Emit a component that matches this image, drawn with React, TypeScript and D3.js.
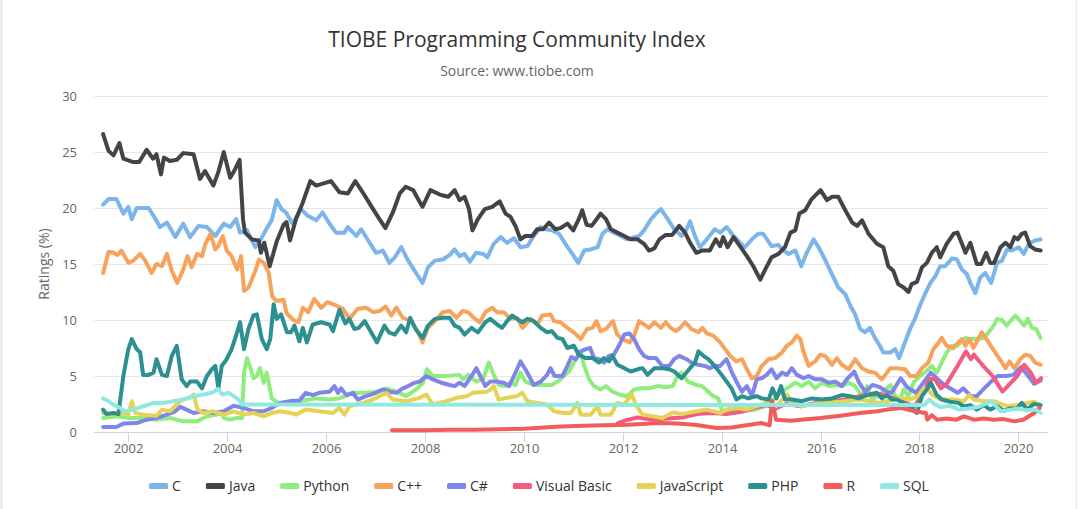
import { useEffect, useRef } from "react";
import * as d3 from "d3";

// TIOBE index, [year, rating %]
const cData: [number, number][] = [
  [2001.49, 20.3], [2001.6, 20.8], [2001.76, 20.8], [2001.9, 19.5], [2002.0, 20.1], [2002.07, 19.0], [2002.17, 20.0],
  [2002.41, 20.0], [2002.51, 19.3], [2002.64, 18.3], [2002.78, 18.7], [2002.95, 17.4], [2003.11, 18.6], [2003.25, 17.4],
  [2003.42, 18.4], [2003.59, 18.3], [2003.76, 17.5], [2003.93, 18.6], [2004.06, 18.3], [2004.18, 19.0], [2004.26, 17.8],
  [2004.4, 18.0], [2004.57, 16.5], [2004.68, 17.2], [2004.79, 18.1], [2004.9, 18.9], [2005.0, 20.7], [2005.1, 19.9],
  [2005.19, 19.6], [2005.32, 18.6], [2005.49, 19.9], [2005.63, 19.3], [2005.8, 18.9], [2005.93, 19.6], [2006.07, 18.6],
  [2006.2, 17.8], [2006.37, 17.8], [2006.44, 18.3], [2006.61, 17.5], [2006.71, 18.1], [2006.88, 16.9], [2007.01, 16.0],
  [2007.15, 16.2], [2007.28, 15.1], [2007.39, 15.6], [2007.52, 16.5], [2007.66, 15.3], [2007.79, 14.4], [2007.95, 13.3],
  [2008.06, 14.7], [2008.2, 15.3], [2008.36, 15.4], [2008.5, 15.8], [2008.6, 16.3], [2008.7, 15.7], [2008.8, 15.9],
  [2008.91, 15.2], [2009.03, 16.0], [2009.18, 15.9], [2009.26, 15.6], [2009.39, 16.8], [2009.53, 17.4], [2009.66, 16.9],
  [2009.8, 17.3], [2009.93, 16.5], [2010.07, 16.6], [2010.2, 17.5], [2010.34, 18.3], [2010.44, 18.1], [2010.57, 18.0],
  [2010.71, 17.7], [2010.84, 16.8], [2010.98, 15.9], [2011.1, 15.1], [2011.22, 16.2], [2011.35, 16.3], [2011.49, 16.5],
  [2011.59, 17.7], [2011.69, 18.1], [2011.82, 17.8], [2011.96, 17.5], [2012.09, 17.2], [2012.23, 17.4], [2012.33, 17.5],
  [2012.43, 18.0], [2012.57, 19.0], [2012.67, 19.5], [2012.77, 19.9], [2012.91, 19.0], [2013.04, 18.1], [2013.19, 17.5],
  [2013.29, 18.1], [2013.36, 18.8], [2013.46, 17.5], [2013.56, 16.5], [2013.7, 17.2], [2013.86, 18.1], [2013.97, 17.8],
  [2014.1, 18.3], [2014.24, 17.5], [2014.37, 16.9], [2014.47, 16.5], [2014.61, 17.2], [2014.74, 17.7], [2014.84, 17.7],
  [2015.01, 16.6], [2015.15, 16.7], [2015.25, 16.2], [2015.35, 15.9], [2015.49, 16.2], [2015.61, 14.8], [2015.72, 16.0],
  [2015.86, 17.2], [2015.96, 16.5], [2016.09, 15.4], [2016.23, 14.1], [2016.36, 12.9], [2016.5, 12.3], [2016.6, 11.3],
  [2016.7, 10.5], [2016.8, 9.2], [2016.9, 8.9], [2017.0, 9.3], [2017.1, 8.4], [2017.2, 7.7], [2017.27, 7.1],
  [2017.41, 7.1], [2017.51, 7.4], [2017.59, 6.6], [2017.68, 7.7], [2017.81, 9.2], [2017.91, 10.1], [2018.01, 11.3],
  [2018.11, 12.3], [2018.22, 13.3], [2018.32, 13.9], [2018.42, 14.8], [2018.52, 14.8], [2018.66, 15.5], [2018.76, 15.4],
  [2018.86, 14.5], [2018.96, 14.1], [2019.03, 13.3], [2019.13, 12.4], [2019.23, 13.8], [2019.33, 14.2], [2019.45, 13.3],
  [2019.57, 15.1], [2019.67, 15.3], [2019.77, 16.3], [2019.87, 16.2], [2020.01, 16.5], [2020.11, 15.9], [2020.21, 16.8],
  [2020.34, 17.1], [2020.45, 17.2],
];

const javaData: [number, number][] = [
  [2001.49, 26.6], [2001.6, 25.1], [2001.7, 24.7], [2001.82, 25.8], [2001.9, 24.4], [2002.1, 24.1], [2002.22, 24.1],
  [2002.37, 25.2], [2002.5, 24.4], [2002.57, 24.8], [2002.66, 23.0], [2002.72, 24.5], [2002.84, 24.2], [2002.98, 24.3],
  [2003.11, 24.9], [2003.32, 24.8], [2003.45, 22.6], [2003.55, 23.3], [2003.72, 22.0], [2003.82, 23.2], [2003.93, 25.0],
  [2004.06, 22.7], [2004.14, 23.3], [2004.25, 24.3], [2004.32, 19.0], [2004.36, 17.8], [2004.5, 17.2], [2004.64, 17.1],
  [2004.68, 16.0], [2004.75, 16.9], [2004.86, 14.8], [2005.0, 17.0], [2005.14, 18.5], [2005.2, 18.75], [2005.27, 17.1],
  [2005.39, 19.0], [2005.53, 20.5], [2005.68, 22.4], [2005.8, 22.0], [2006.1, 22.4], [2006.27, 21.4], [2006.44, 21.3],
  [2006.59, 22.4], [2006.74, 21.4], [2006.95, 19.9], [2007.08, 19.0], [2007.2, 18.2], [2007.35, 19.6], [2007.49, 21.3],
  [2007.61, 21.9], [2007.76, 21.6], [2007.86, 20.8], [2007.95, 20.1], [2008.11, 21.6], [2008.3, 21.2], [2008.47, 21.0],
  [2008.6, 21.6], [2008.7, 20.7], [2008.8, 21.0], [2008.89, 19.9], [2008.96, 18.0], [2009.07, 19.0], [2009.21, 19.9],
  [2009.36, 20.1], [2009.51, 20.6], [2009.63, 19.5], [2009.73, 19.2], [2009.83, 18.4], [2009.93, 17.2], [2010.03, 17.5],
  [2010.17, 17.5], [2010.27, 18.1], [2010.39, 18.1], [2010.51, 18.7], [2010.64, 18.1], [2010.74, 18.2], [2010.88, 18.6],
  [2011.0, 18.0], [2011.11, 19.0], [2011.18, 19.8], [2011.27, 18.5], [2011.37, 18.4], [2011.47, 19.0], [2011.55, 19.5],
  [2011.66, 19.0], [2011.76, 18.1], [2011.89, 17.8], [2012.03, 17.5], [2012.15, 17.2], [2012.3, 17.2], [2012.43, 16.8],
  [2012.53, 16.2], [2012.64, 16.4], [2012.74, 17.2], [2012.87, 17.6], [2013.0, 17.6], [2013.14, 18.4], [2013.26, 17.8],
  [2013.36, 16.9], [2013.49, 16.0], [2013.6, 16.2], [2013.76, 16.2], [2013.88, 17.2], [2013.97, 16.6], [2014.03, 17.4],
  [2014.12, 16.5], [2014.24, 17.4], [2014.37, 16.6], [2014.51, 15.7], [2014.64, 14.8], [2014.78, 13.6], [2014.88, 14.5],
  [2015.01, 15.6], [2015.15, 15.9], [2015.28, 16.5], [2015.39, 17.8], [2015.49, 18.0], [2015.57, 19.5], [2015.69, 19.8],
  [2015.82, 20.8], [2016.0, 21.6], [2016.13, 20.7], [2016.23, 21.0], [2016.36, 21.0], [2016.5, 19.8], [2016.64, 18.7],
  [2016.74, 18.4], [2016.84, 18.9], [2016.97, 17.7], [2017.14, 16.8], [2017.27, 16.5], [2017.37, 14.8], [2017.47, 14.4],
  [2017.57, 13.2], [2017.68, 12.9], [2017.78, 12.5], [2017.84, 13.2], [2017.95, 13.4], [2018.05, 14.7], [2018.15, 15.1],
  [2018.25, 16.0], [2018.35, 16.5], [2018.42, 15.6], [2018.55, 16.8], [2018.69, 17.7], [2018.77, 17.8], [2018.86, 16.8],
  [2018.93, 16.0], [2019.03, 16.9], [2019.16, 15.0], [2019.25, 15.0], [2019.35, 16.0], [2019.43, 15.1], [2019.51, 15.1],
  [2019.64, 16.5], [2019.74, 16.9], [2019.84, 16.5], [2019.92, 17.4], [2019.99, 17.2], [2020.07, 17.7], [2020.14, 17.8],
  [2020.24, 16.6], [2020.34, 16.3], [2020.45, 16.2],
];

const pythonData: [number, number][] = [
  [2001.49, 1.25], [2001.76, 1.4], [2002.03, 1.25], [2002.3, 1.25], [2002.57, 1.1], [2002.84, 1.25], [2003.11, 0.95],
  [2003.39, 0.95], [2003.59, 1.4], [2003.79, 1.55], [2003.89, 1.7], [2003.93, 1.25], [2004.06, 1.1], [2004.2, 1.25],
  [2004.3, 1.25], [2004.34, 5.3], [2004.4, 6.6], [2004.47, 5.7], [2004.53, 4.8], [2004.6, 5.0], [2004.66, 5.7],
  [2004.74, 4.4], [2004.8, 5.3], [2004.9, 3.0], [2005.04, 2.6], [2005.19, 2.6], [2005.46, 2.75], [2005.8, 3.0],
  [2006.07, 2.9], [2006.27, 3.0], [2006.54, 3.5], [2006.81, 3.5], [2007.01, 3.6], [2007.22, 3.9], [2007.42, 3.6],
  [2007.62, 3.2], [2007.82, 3.8], [2007.96, 4.4], [2008.04, 5.6], [2008.16, 5.0], [2008.43, 5.0], [2008.7, 5.1],
  [2008.77, 4.7], [2008.87, 5.1], [2009.04, 4.5], [2009.18, 4.8], [2009.29, 6.2], [2009.39, 5.1], [2009.49, 4.2],
  [2009.63, 4.1], [2009.73, 4.4], [2009.83, 4.2], [2009.93, 5.3], [2010.03, 4.5], [2010.2, 4.2], [2010.41, 4.2],
  [2010.57, 4.2], [2010.74, 4.7], [2010.91, 5.4], [2011.05, 6.5], [2011.15, 7.1], [2011.22, 5.9], [2011.32, 4.7],
  [2011.42, 4.1], [2011.55, 3.8], [2011.66, 4.1], [2011.79, 3.6], [2011.96, 3.3], [2012.09, 3.2], [2012.23, 3.8],
  [2012.37, 3.9], [2012.53, 3.9], [2012.7, 4.1], [2012.87, 4.0], [2013.01, 4.1], [2013.11, 5.0], [2013.18, 5.3],
  [2013.32, 4.5], [2013.49, 4.2], [2013.6, 4.1], [2013.73, 3.6], [2013.83, 3.2], [2013.93, 3.0], [2014.0, 2.0],
  [2014.14, 1.7], [2014.27, 2.0], [2014.47, 1.85], [2014.68, 2.0], [2014.88, 2.3], [2015.05, 2.9], [2015.15, 3.3],
  [2015.28, 3.8], [2015.39, 4.1], [2015.49, 4.4], [2015.62, 4.1], [2015.76, 4.5], [2015.89, 3.9], [2016.03, 4.4],
  [2016.16, 4.1], [2016.3, 4.2], [2016.43, 4.1], [2016.57, 4.4], [2016.7, 4.1], [2016.84, 3.2], [2016.94, 4.1],
  [2017.04, 2.9], [2017.14, 3.2], [2017.24, 3.5], [2017.34, 3.9], [2017.42, 4.2], [2017.51, 3.2], [2017.61, 2.9],
  [2017.68, 3.8], [2017.78, 3.2], [2017.88, 4.4], [2018.01, 5.0], [2018.11, 5.3], [2018.25, 5.9], [2018.35, 5.3],
  [2018.45, 6.2], [2018.55, 7.1], [2018.66, 7.7], [2018.76, 7.7], [2018.86, 8.1], [2018.93, 8.4], [2019.03, 8.3],
  [2019.16, 8.3], [2019.3, 8.4], [2019.4, 8.9], [2019.5, 9.5], [2019.57, 10.1], [2019.67, 10.0], [2019.76, 9.5],
  [2019.84, 9.9], [2019.94, 10.4], [2020.04, 9.9], [2020.12, 9.5], [2020.19, 10.1], [2020.28, 9.3], [2020.36, 9.2],
  [2020.45, 8.4],
];

const cppData: [number, number][] = [
  [2001.49, 14.2], [2001.6, 16.1], [2001.7, 16.0], [2001.78, 15.8], [2001.86, 16.2], [2002.0, 15.1], [2002.1, 15.3],
  [2002.24, 15.9], [2002.34, 15.3], [2002.47, 14.2], [2002.57, 15.0], [2002.68, 14.8], [2002.78, 15.9], [2002.88, 14.4],
  [2002.99, 13.3], [2003.11, 14.5], [2003.2, 15.7], [2003.28, 14.7], [2003.39, 15.9], [2003.49, 15.7], [2003.55, 16.7],
  [2003.66, 17.7], [2003.76, 16.3], [2003.82, 16.6], [2003.91, 17.5], [2003.99, 16.2], [2004.09, 15.7], [2004.2, 14.5],
  [2004.28, 15.7], [2004.34, 12.6], [2004.43, 12.9], [2004.57, 14.4], [2004.64, 15.4], [2004.74, 15.1], [2004.84, 14.2],
  [2004.91, 12.1], [2005.0, 11.7], [2005.14, 11.8], [2005.2, 10.6], [2005.34, 10.0], [2005.44, 9.8], [2005.53, 11.1],
  [2005.64, 10.7], [2005.76, 11.9], [2005.9, 11.1], [2006.03, 11.6], [2006.2, 11.3], [2006.34, 11.0], [2006.47, 10.1],
  [2006.64, 11.0], [2006.81, 11.1], [2006.95, 10.7], [2007.08, 10.8], [2007.2, 11.2], [2007.32, 10.4], [2007.42, 11.1],
  [2007.55, 10.2], [2007.72, 9.9], [2007.86, 8.9], [2007.95, 8.0], [2008.06, 9.3], [2008.2, 9.9], [2008.36, 10.7],
  [2008.5, 10.8], [2008.64, 10.2], [2008.76, 10.8], [2008.87, 10.7], [2009.01, 10.1], [2009.11, 9.8], [2009.22, 10.7],
  [2009.36, 11.1], [2009.46, 10.7], [2009.59, 10.7], [2009.73, 10.1], [2009.86, 10.2], [2009.97, 9.3], [2010.14, 10.1],
  [2010.27, 9.6], [2010.37, 10.4], [2010.54, 10.5], [2010.61, 9.9], [2010.74, 9.8], [2010.88, 9.3], [2011.01, 8.9],
  [2011.15, 8.3], [2011.28, 9.2], [2011.39, 9.3], [2011.47, 9.9], [2011.55, 9.0], [2011.66, 9.2], [2011.8, 9.9],
  [2011.89, 8.7], [2011.99, 8.3], [2012.14, 8.0], [2012.23, 8.6], [2012.33, 9.9], [2012.43, 9.6], [2012.53, 9.3],
  [2012.64, 9.8], [2012.77, 9.3], [2012.87, 9.8], [2012.97, 9.3], [2013.07, 9.0], [2013.16, 9.3], [2013.26, 9.8],
  [2013.39, 9.2], [2013.53, 8.9], [2013.61, 9.3], [2013.7, 8.8], [2013.83, 8.6], [2013.97, 8.0], [2014.07, 7.4],
  [2014.17, 6.8], [2014.3, 6.3], [2014.41, 6.5], [2014.51, 5.6], [2014.61, 4.8], [2014.71, 5.0], [2014.81, 5.9],
  [2014.95, 6.5], [2015.08, 6.6], [2015.22, 7.1], [2015.32, 7.7], [2015.42, 8.0], [2015.52, 8.6], [2015.59, 8.3],
  [2015.66, 7.1], [2015.76, 5.9], [2015.89, 6.3], [2015.99, 6.9], [2016.09, 6.8], [2016.23, 6.0], [2016.33, 6.6],
  [2016.43, 6.0], [2016.57, 5.6], [2016.7, 6.5], [2016.84, 5.7], [2016.97, 5.4], [2017.1, 5.3], [2017.24, 4.7],
  [2017.41, 5.7], [2017.54, 5.7], [2017.71, 5.6], [2017.81, 5.0], [2017.95, 5.0], [2018.05, 5.7], [2018.18, 6.2],
  [2018.28, 7.4], [2018.39, 8.0], [2018.45, 8.4], [2018.55, 7.7], [2018.69, 7.5], [2018.79, 8.0], [2018.86, 8.3],
  [2018.93, 7.7], [2019.01, 8.3], [2019.09, 7.5], [2019.26, 8.9], [2019.4, 8.0], [2019.53, 7.1], [2019.67, 6.2],
  [2019.74, 5.7], [2019.82, 6.3], [2019.92, 5.7], [2020.04, 6.5], [2020.14, 6.9], [2020.24, 6.8], [2020.34, 6.2],
  [2020.45, 6.0],
];

const csharpData: [number, number][] = [
  [2001.49, 0.45], [2001.76, 0.45], [2001.9, 0.75], [2002.17, 0.8], [2002.37, 1.1], [2002.57, 1.25], [2002.78, 1.55],
  [2002.95, 1.85], [2003.05, 2.25], [2003.18, 2.0], [2003.32, 1.7], [2003.52, 1.85], [2003.72, 1.7], [2003.93, 1.85],
  [2004.13, 2.35], [2004.33, 2.15], [2004.53, 1.85], [2004.74, 1.85], [2004.9, 2.15], [2005.07, 2.6], [2005.32, 2.8],
  [2005.46, 2.8], [2005.59, 3.5], [2005.73, 3.3], [2005.86, 3.5], [2006.07, 3.6], [2006.17, 4.1], [2006.24, 3.5],
  [2006.3, 3.9], [2006.41, 3.3], [2006.54, 3.5], [2006.64, 2.9], [2006.81, 3.2], [2007.01, 3.5], [2007.15, 3.8],
  [2007.28, 3.6], [2007.42, 3.5], [2007.55, 3.9], [2007.66, 4.1], [2007.79, 4.4], [2007.89, 4.5], [2008.03, 5.0],
  [2008.16, 4.7], [2008.33, 4.4], [2008.5, 4.2], [2008.6, 4.1], [2008.7, 4.4], [2008.8, 4.1], [2008.94, 5.0],
  [2009.04, 5.7], [2009.14, 4.8], [2009.22, 4.1], [2009.32, 4.5], [2009.46, 4.5], [2009.59, 4.4], [2009.7, 4.1],
  [2009.8, 5.0], [2009.93, 6.3], [2010.03, 5.6], [2010.14, 4.7], [2010.2, 4.2], [2010.34, 4.5], [2010.47, 5.1],
  [2010.54, 5.7], [2010.62, 5.0], [2010.78, 5.0], [2010.88, 5.9], [2010.96, 6.7], [2011.05, 6.5], [2011.15, 7.2],
  [2011.25, 7.4], [2011.34, 7.5], [2011.42, 6.6], [2011.52, 6.5], [2011.62, 6.2], [2011.72, 6.8], [2011.82, 6.9],
  [2011.92, 7.7], [2012.03, 8.7], [2012.13, 8.8], [2012.23, 8.3], [2012.33, 7.4], [2012.43, 6.8], [2012.53, 6.6],
  [2012.67, 6.6], [2012.8, 5.9], [2012.94, 5.9], [2013.04, 6.5], [2013.14, 6.8], [2013.29, 6.5], [2013.39, 6.2],
  [2013.53, 6.0], [2013.66, 5.9], [2013.76, 5.7], [2013.86, 5.9], [2013.97, 5.9], [2014.1, 6.5], [2014.2, 5.4],
  [2014.3, 4.5], [2014.41, 3.6], [2014.51, 4.1], [2014.61, 3.2], [2014.71, 4.7], [2014.81, 4.8], [2014.91, 5.1],
  [2015.01, 5.6], [2015.11, 4.8], [2015.22, 5.3], [2015.32, 5.1], [2015.42, 5.7], [2015.52, 5.1], [2015.66, 4.8],
  [2015.76, 5.0], [2015.89, 4.7], [2016.03, 4.7], [2016.16, 4.4], [2016.3, 4.5], [2016.43, 4.1], [2016.53, 4.7],
  [2016.68, 5.4], [2016.78, 4.4], [2016.9, 3.6], [2017.05, 4.2], [2017.2, 4.0], [2017.34, 3.6], [2017.44, 3.5],
  [2017.62, 4.8], [2017.75, 4.0], [2017.93, 3.5], [2018.08, 4.4], [2018.23, 5.3], [2018.35, 4.8], [2018.5, 4.2],
  [2018.62, 3.9], [2018.77, 3.5], [2018.89, 3.9], [2019.04, 3.2], [2019.16, 3.2], [2019.31, 3.9], [2019.45, 4.5],
  [2019.58, 5.0], [2019.75, 5.0], [2019.9, 5.1], [2020.05, 5.8], [2020.2, 5.0], [2020.32, 4.3], [2020.45, 4.6],
];

const vbData: [number, number][] = [
  [2011.9, 0.8], [2012.1, 1.1], [2012.3, 1.3], [2012.6, 1.1], [2012.9, 1.2], [2013.2, 1.3], [2013.5, 1.6],
  [2013.8, 1.7], [2014.1, 1.6], [2014.4, 1.8], [2014.7, 2.2], [2014.9, 2.4], [2015.1, 2.1], [2015.3, 2.5],
  [2015.6, 2.3], [2015.9, 2.6], [2016.2, 2.7], [2016.5, 2.9], [2016.9, 3.3], [2017.2, 3.4], [2017.5, 3.0],
  [2017.9, 2.3], [2018.1, 3.6], [2018.2, 4.7], [2018.3, 4.8], [2018.43, 3.9], [2018.55, 4.3], [2018.77, 5.9],
  [2018.94, 7.2], [2019.04, 6.5], [2019.1, 6.9], [2019.27, 6.0], [2019.48, 5.0], [2019.68, 3.6], [2019.85, 4.4],
  [2019.98, 5.0], [2020.12, 6.0], [2020.25, 5.3], [2020.36, 4.4], [2020.46, 4.8],
];

const jsData: [number, number][] = [
  [2001.49, 1.7], [2001.62, 1.55], [2001.9, 1.7], [2002.0, 1.55], [2002.07, 2.75], [2002.14, 1.7], [2002.3, 1.55],
  [2002.57, 1.45], [2002.68, 2.0], [2002.84, 1.85], [2003.01, 2.6], [2003.11, 2.9], [2003.25, 3.05], [2003.32, 3.35],
  [2003.4, 2.0], [2003.52, 1.7], [2003.72, 1.85], [2003.93, 1.55], [2004.13, 1.85], [2004.33, 1.55], [2004.53, 1.7],
  [2004.74, 1.4], [2004.9, 1.7], [2005.07, 1.85], [2005.28, 1.7], [2005.39, 1.55], [2005.59, 2.0], [2005.86, 1.85],
  [2006.14, 1.7], [2006.27, 2.15], [2006.37, 1.55], [2006.47, 2.3], [2006.74, 2.6], [2006.95, 2.9], [2007.08, 3.2],
  [2007.22, 3.5], [2007.35, 2.9], [2007.62, 2.75], [2007.89, 3.05], [2008.03, 3.35], [2008.16, 2.45], [2008.43, 2.75],
  [2008.64, 3.05], [2008.84, 3.2], [2008.97, 3.5], [2009.24, 3.6], [2009.32, 3.75], [2009.39, 4.1], [2009.49, 2.9],
  [2009.66, 3.05], [2009.86, 3.2], [2009.97, 3.5], [2010.07, 2.75], [2010.27, 2.6], [2010.47, 2.45], [2010.61, 1.85],
  [2010.81, 1.7], [2010.95, 1.7], [2011.08, 2.6], [2011.15, 1.55], [2011.35, 1.55], [2011.49, 2.3], [2011.55, 1.55],
  [2011.76, 1.55], [2011.89, 2.6], [2012.03, 2.45], [2012.18, 3.35], [2012.28, 2.3], [2012.4, 1.55], [2012.6, 1.4],
  [2012.8, 1.25], [2013.02, 1.75], [2013.2, 1.6], [2013.43, 1.8], [2013.7, 2.0], [2013.97, 1.7], [2014.2, 2.2],
  [2014.5, 2.0], [2014.91, 2.6], [2015.1, 2.3], [2015.32, 3.35], [2015.45, 2.6], [2015.6, 2.3], [2016.0, 2.6],
  [2016.4, 2.7], [2016.8, 2.9], [2017.2, 2.6], [2017.62, 3.05], [2017.8, 2.9], [2017.97, 3.2], [2018.07, 3.8],
  [2018.16, 3.9], [2018.26, 3.3], [2018.43, 2.9], [2018.7, 2.9], [2018.9, 2.75], [2019.0, 3.3], [2019.1, 2.9],
  [2019.3, 2.75], [2019.5, 2.75], [2019.77, 2.3], [2020.04, 2.45], [2020.32, 2.7], [2020.45, 2.4],
];

const phpData: [number, number][] = [
  [2001.49, 2.0], [2001.56, 1.6], [2001.7, 1.7], [2001.8, 1.6], [2001.9, 5.0], [2002.0, 7.4], [2002.07, 8.3],
  [2002.17, 7.4], [2002.24, 7.1], [2002.3, 5.1], [2002.41, 5.1], [2002.51, 5.3], [2002.57, 6.5], [2002.68, 5.1],
  [2002.78, 5.0], [2002.88, 6.8], [2002.98, 7.7], [2003.08, 4.7], [2003.18, 4.1], [2003.25, 4.5], [2003.39, 4.5],
  [2003.49, 3.9], [2003.59, 5.0], [2003.69, 5.6], [2003.76, 5.9], [2003.82, 3.9], [2003.89, 5.9], [2003.99, 6.5],
  [2004.09, 7.4], [2004.2, 8.9], [2004.26, 9.8], [2004.34, 7.4], [2004.43, 9.2], [2004.53, 10.4], [2004.6, 10.5],
  [2004.7, 8.3], [2004.8, 7.4], [2004.87, 8.3], [2004.94, 11.4], [2005.0, 10.1], [2005.09, 10.5], [2005.21, 8.9],
  [2005.29, 8.9], [2005.36, 9.5], [2005.46, 8.1], [2005.53, 9.3], [2005.61, 8.0], [2005.73, 9.6], [2005.9, 9.8],
  [2006.07, 9.6], [2006.14, 9.0], [2006.27, 10.9], [2006.39, 9.7], [2006.47, 10.1], [2006.57, 9.2], [2006.66, 9.3],
  [2006.78, 9.9], [2006.91, 8.9], [2007.03, 8.0], [2007.18, 9.5], [2007.27, 8.9], [2007.39, 8.7], [2007.52, 9.5],
  [2007.62, 8.9], [2007.7, 10.2], [2007.81, 9.2], [2007.95, 8.4], [2008.06, 9.5], [2008.2, 10.1], [2008.36, 10.2],
  [2008.5, 10.2], [2008.6, 9.5], [2008.7, 9.3], [2008.8, 8.7], [2008.94, 9.3], [2009.07, 8.9], [2009.22, 9.8],
  [2009.32, 10.1], [2009.46, 9.6], [2009.56, 9.3], [2009.66, 9.9], [2009.76, 10.4], [2009.86, 10.1], [2009.97, 9.8],
  [2010.07, 10.1], [2010.2, 9.9], [2010.34, 9.3], [2010.47, 8.9], [2010.57, 9.0], [2010.68, 8.4], [2010.78, 8.3],
  [2010.88, 7.5], [2011.01, 7.7], [2011.11, 6.9], [2011.25, 6.6], [2011.39, 6.6], [2011.52, 6.2], [2011.62, 6.6],
  [2011.72, 6.3], [2011.79, 6.8], [2011.89, 6.0], [2012.03, 5.7], [2012.16, 5.4], [2012.3, 5.6], [2012.4, 5.7],
  [2012.5, 5.1], [2012.64, 5.7], [2012.8, 5.7], [2012.94, 5.6], [2013.04, 5.4], [2013.19, 4.8], [2013.36, 5.7],
  [2013.46, 6.2], [2013.53, 7.2], [2013.63, 6.8], [2013.73, 6.5], [2013.86, 5.9], [2014.0, 5.1], [2014.1, 4.5],
  [2014.2, 3.9], [2014.3, 2.9], [2014.41, 3.2], [2014.54, 3.0], [2014.71, 3.2], [2014.81, 3.0], [2014.95, 2.9],
  [2015.03, 3.9], [2015.11, 3.0], [2015.2, 4.1], [2015.28, 2.9], [2015.42, 2.9], [2015.62, 2.75], [2015.82, 3.0],
  [2016.03, 2.9], [2016.23, 3.0], [2016.43, 3.3], [2016.6, 3.2], [2016.77, 3.0], [2016.94, 3.3], [2017.14, 3.5],
  [2017.24, 3.0], [2017.34, 3.3], [2017.44, 2.9], [2017.54, 2.9], [2017.68, 2.6], [2017.78, 2.3], [2017.88, 2.0],
  [2017.95, 1.7], [2018.05, 3.2], [2018.15, 3.8], [2018.23, 4.4], [2018.35, 3.3], [2018.45, 2.9], [2018.62, 2.7],
  [2018.79, 2.6], [2018.89, 2.3], [2019.03, 2.4], [2019.16, 2.0], [2019.3, 2.4], [2019.43, 2.0], [2019.57, 2.3],
  [2019.7, 1.9], [2019.84, 2.1], [2019.97, 2.1], [2020.07, 2.6], [2020.18, 2.0], [2020.31, 2.5], [2020.45, 2.4],
];

const rData: [number, number][] = [
  [2007.33, 0.15], [2008.0, 0.15], [2008.5, 0.2], [2009.0, 0.2], [2009.5, 0.25], [2010.0, 0.3], [2010.4, 0.4],
  [2010.75, 0.5], [2011.2, 0.55], [2011.6, 0.6], [2012.1, 0.65], [2012.75, 0.8], [2013.1, 0.75], [2013.45, 0.65],
  [2013.9, 0.35], [2014.2, 0.4], [2014.5, 0.6], [2014.8, 0.8], [2014.97, 0.6], [2015.02, 2.8], [2015.1, 1.1],
  [2015.4, 1.0], [2015.6, 1.1], [2016.0, 1.25], [2016.4, 1.45], [2016.8, 1.7], [2017.15, 1.85], [2017.35, 2.0],
  [2017.62, 2.15], [2017.9, 1.85], [2018.13, 1.7], [2018.16, 1.1], [2018.25, 1.5], [2018.36, 1.1], [2018.55, 1.2],
  [2018.75, 1.1], [2018.9, 1.4], [2019.1, 1.1], [2019.3, 1.2], [2019.5, 1.1], [2019.7, 1.15], [2019.92, 0.95],
  [2020.1, 1.1], [2020.32, 1.7], [2020.43, 2.15],
];

const sqlData: [number, number][] = [
  [2001.49, 3.0], [2001.6, 2.75], [2001.7, 2.45], [2001.83, 2.15], [2001.93, 1.85], [2002.1, 2.0], [2002.3, 2.3],
  [2002.51, 2.6], [2002.71, 2.6], [2002.91, 2.75], [2003.11, 2.9], [2003.32, 3.2], [2003.52, 3.35], [2003.69, 3.5],
  [2003.81, 3.85], [2003.9, 3.35], [2004.03, 3.5], [2004.13, 3.2], [2004.23, 2.9], [2004.3, 2.45], [2018.1, 2.4],
  [2018.2, 2.9], [2018.3, 2.5], [2018.43, 2.2], [2018.6, 2.35], [2018.8, 2.0], [2019.0, 2.1], [2019.2, 2.25],
  [2019.45, 2.75], [2019.65, 1.85], [2019.85, 2.0], [2020.0, 2.1], [2020.15, 1.95], [2020.35, 2.0], [2020.45, 1.7],
];

const seriesNames = ["C", "Java", "Python", "C++", "C#", "Visual Basic", "JavaScript", "PHP", "R", "SQL"];
const seriesColors = ["#7cb5ec", "#434348", "#90ed7d", "#f7a35c", "#8085e9", "#f15c80", "#e4d354", "#2b908f", "#f45b5b", "#91e8e1"];
const seriesData = [cData, javaData, pythonData, cppData, csharpData, vbData, jsData, phpData, rData, sqlData];

const xTicks = [2002, 2004, 2006, 2008, 2010, 2012, 2014, 2016, 2018, 2020];
const yTicks = [0, 5, 10, 15, 20, 25, 30];

const width = 1080;
const height = 509;
const plot = { left: 94, right: 1048, top: 96, bottom: 432 };
const titleX = 517;
const font = "'Open Sans', sans-serif";

const App = () => {
  const svgRef = useRef<SVGSVGElement>(null);

  useEffect(() => {
    document.body.style.margin = "0";
    const svg = d3.select(svgRef.current);
    svg.selectAll("*").remove();

    const x = d3.scaleLinear().domain([2001.306, 2020.6]).range([plot.left, plot.right]);
    const y = d3.scaleLinear().domain([0, 30]).range([plot.bottom, plot.top]);

    svg.append("rect").attr("width", width).attr("height", height).attr("fill", "#fff");
    // faint frame of the container
    svg.append("line").attr("x1", 1.5).attr("x2", 1.5).attr("y1", 0).attr("y2", height).attr("stroke", "#e9eef3").attr("stroke-width", 3);
    svg.append("line").attr("x1", 1076.5).attr("x2", 1076.5).attr("y1", 0).attr("y2", height).attr("stroke", "#e9eef3").attr("stroke-width", 2);

    svg.append("text")
      .attr("x", titleX).attr("y", 47)
      .attr("text-anchor", "middle")
      .attr("font-family", font).attr("font-size", 21).attr("fill", "#333")
      .text("TIOBE Programming Community Index");
    svg.append("text")
      .attr("x", titleX).attr("y", 76)
      .attr("text-anchor", "middle")
      .attr("font-family", font).attr("font-size", 14).attr("fill", "#666")
      .text("Source: www.tiobe.com");

    // grid + y labels
    const grid = svg.append("g");
    grid.selectAll("line").data(yTicks.filter((t) => t > 0)).enter().append("line")
      .attr("x1", plot.left).attr("x2", plot.right)
      .attr("y1", (d) => Math.round(y(d)) + 0.5).attr("y2", (d) => Math.round(y(d)) + 0.5)
      .attr("stroke", "#e6e6e6");
    svg.append("g").selectAll("text").data(yTicks).enter().append("text")
      .attr("x", 77).attr("y", (d) => y(d) + 4.5)
      .attr("text-anchor", "end")
      .attr("font-family", font).attr("font-size", 13).attr("fill", "#666")
      .text((d) => d);

    svg.append("text")
      .attr("transform", `translate(49,${(plot.top + plot.bottom) / 2}) rotate(-90)`)
      .attr("text-anchor", "middle")
      .attr("font-family", font).attr("font-size", 14).attr("fill", "#666")
      .text("Ratings (%)");

    // x axis
    svg.append("line")
      .attr("x1", plot.left).attr("x2", plot.right)
      .attr("y1", plot.bottom + 0.5).attr("y2", plot.bottom + 0.5)
      .attr("stroke", "#ccd6eb");
    const xt = svg.append("g").selectAll("g").data(xTicks).enter().append("g")
      .attr("transform", (d) => `translate(${Math.round(x(d)) + 0.5},0)`);
    xt.append("line").attr("y1", plot.bottom).attr("y2", plot.bottom + 10).attr("stroke", "#ccd6eb");
    xt.append("text")
      .attr("y", 453).attr("text-anchor", "middle")
      .attr("font-family", font).attr("font-size", 13).attr("fill", "#666")
      .text((d) => d);

    // series
    const line = d3.line<[number, number]>().x((d) => x(d[0])).y((d) => y(d[1]));
    svg.append("g").selectAll("path").data(seriesData).enter().append("path")
      .attr("d", (d) => line(d))
      .attr("fill", "none")
      .attr("stroke", (d, i) => seriesColors[i])
      .attr("stroke-width", 4)
      .attr("stroke-linejoin", "round")
      .attr("stroke-linecap", "round");

    // legend, centred on the chart
    const ctx = document.createElement("canvas").getContext("2d")!;
    ctx.font = `14px ${font}`;
    const symbolW = 19, gap = 4, itemDist = 25;
    const widths = seriesNames.map((n) => symbolW + gap + ctx.measureText(n).width);
    const total = d3.sum(widths) + itemDist * (widths.length - 1);
    let cx = 539 - total / 2;
    const offsets = widths.map((w) => { const o = cx; cx += w + itemDist; return o; });
    const legend = svg.append("g").selectAll("g").data(seriesNames).enter().append("g")
      .attr("transform", (d, i) => `translate(${offsets[i]},486)`);
    legend.append("rect")
      .attr("y", -3).attr("width", symbolW).attr("height", 6).attr("rx", 1.5)
      .attr("fill", (d, i) => seriesColors[i]);
    legend.append("text")
      .attr("x", symbolW + gap).attr("y", 5)
      .attr("font-family", font).attr("font-size", 14).attr("fill", "#333")
      .text((d) => d);
  }, []);

  return <svg ref={svgRef} width={width} height={height} style={{ display: "block" }}></svg>;
};

export default App;
